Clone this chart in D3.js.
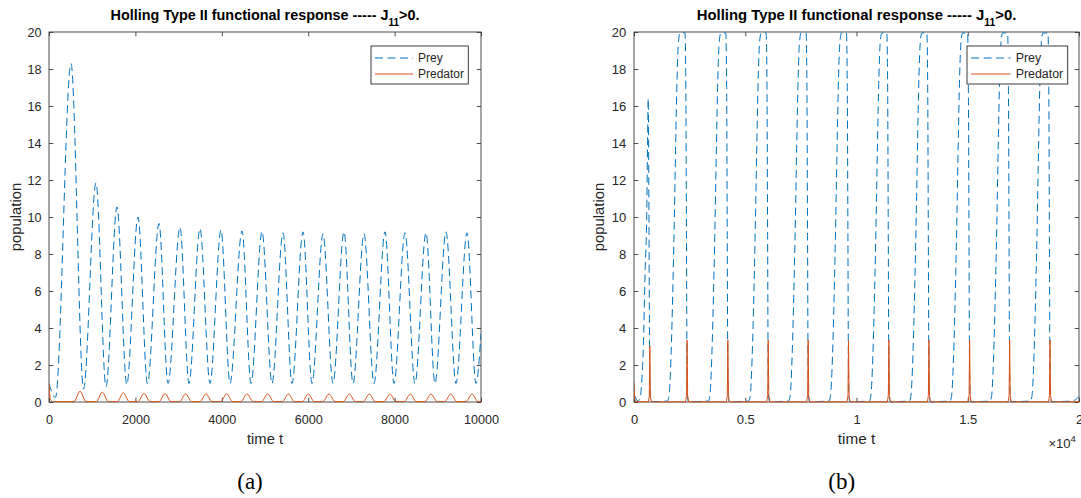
<!DOCTYPE html>
<html><head><meta charset="utf-8">
<script src="https://cdn.jsdelivr.net/npm/d3@7"></script>
<style>body{margin:0;background:#fff}svg{display:block}</style>
</head><body>
<svg id="c" width="1081" height="498"></svg>
<script>
// ---------------- data ----------------
const yTicks = [0, 2, 4, 6, 8, 10, 12, 14, 16, 18, 20];
const xTicksA = [0, 2000, 4000, 6000, 8000, 10000];
const xTicksB = [0, 5000, 10000, 15000, 20000];
const xTickLabelsB = ["0", "0.5", "1", "1.5", "2"];
const legendLabels = ["Prey", "Predator"];
const panelLabels = ["(a)", "(b)"];

// panel (a): prey, [time, population]
const preyA = [[0,1.0],[150,0.25],[509,18.3],[800,0.7],[1088,11.85],[1319,0.82],[1574,10.55],[1800,0.93],
  [2060,10.0],[2280,0.98],[2546,9.65],[2755,1.0],[3032,9.45],[3240,1.0],[3495,9.38],[3727,1.0],
  [3981,9.3],[4190,1.0],[4468,9.25],[4676,1.0],[4931,9.22],[5162,1.0],[5417,9.15],[5625,1.0],
  [5880,9.2],[6088,1.0],[6343,9.1],[6574,1.0],[6829,9.2],[7037,1.0],[7292,9.1],[7523,1.0],
  [7778,9.2],[7986,1.0],[8241,9.15],[8472,1.0],[8727,9.15],[8935,1.0],[9190,9.2],[9421,1.0],
  [9676,9.15],[9884,1.0],[10000,3.7]];

// panel (a): predator
const predA = [[0,1.0],[30,0.15],[100,0.02],
  [578,0.02],[718,0.58],[858,0.02],[1094,0.02],[1234,0.53],[1374,0.02],
  [1580,0.02],[1720,0.49],[1860,0.02],[2059,0.02],[2199,0.46],[2339,0.02],
  [2545,0.02],[2685,0.45],[2825,0.02],[3024,0.02],[3164,0.44],[3304,0.02],
  [3494,0.02],[3634,0.44],[3774,0.02],[3973,0.02],[4113,0.44],[4253,0.02],
  [4443,0.02],[4583,0.44],[4723,0.02],[4922,0.02],[5062,0.44],[5202,0.02],
  [5400,0.02],[5540,0.43],[5680,0.02],[5862,0.02],[6002,0.43],[6142,0.02],
  [6341,0.02],[6481,0.43],[6621,0.02],[6811,0.02],[6951,0.43],[7091,0.02],
  [7274,0.02],[7414,0.43],[7554,0.02],[7753,0.02],[7893,0.43],[8033,0.02],
  [8223,0.02],[8363,0.43],[8503,0.02],[8702,0.02],[8842,0.43],[8982,0.02],
  [9160,0.02],[9300,0.43],[9440,0.02],[9652,0.02],[9792,0.43],[9932,0.02],[10000,0.02]];

// panel (b): prey
const preyB = [[0,1.0],[60,0.3],[150,0.08],[250,0.12],[330,0.8],[420,3],[500,7],[570,10],[610,14],[640,16.4],[665,12],[690,5],[712,1.2],[740,0.15],[790,0.02],
  [1502,0.05],[1572,0.3],[1665,2.5],[1744,6],[1814,10],[1874,14],[1935,17.5],[2000,19.5],[2070,19.95],[2293,19.95],[2330,17],[2358,9],[2381,2],[2409,0.2],[2456,0.02],
  [3335,0.05],[3405,0.3],[3498,2.5],[3577,6],[3647,10],[3707,14],[3768,17.5],[3833,19.5],[3903,19.95],[4126,19.95],[4163,17],[4191,9],[4214,2],[4242,0.2],[4289,0.02],
  [5149,0.05],[5219,0.3],[5312,2.5],[5391,6],[5461,10],[5521,14],[5582,17.5],[5647,19.5],[5717,19.95],[5940,19.95],[5977,17],[6005,9],[6028,2],[6056,0.2],[6103,0.02],
  [6944,0.05],[7014,0.3],[7107,2.5],[7186,6],[7256,10],[7316,14],[7377,17.5],[7442,19.5],[7512,19.95],[7735,19.95],[7772,17],[7800,9],[7823,2],[7851,0.2],[7898,0.02],
  [8758,0.05],[8828,0.3],[8921,2.5],[9000,6],[9070,10],[9130,14],[9191,17.5],[9256,19.5],[9326,19.95],[9549,19.95],[9586,17],[9614,9],[9637,2],[9665,0.2],[9712,0.02],
  [10572,0.05],[10642,0.3],[10735,2.5],[10814,6],[10884,10],[10944,14],[11005,17.5],[11070,19.5],[11140,19.95],[11363,19.95],[11400,17],[11428,9],[11451,2],[11479,0.2],[11526,0.02],
  [12372,0.05],[12442,0.3],[12535,2.5],[12614,6],[12684,10],[12744,14],[12805,17.5],[12870,19.5],[12940,19.95],[13163,19.95],[13200,17],[13228,9],[13251,2],[13279,0.2],[13326,0.02],
  [14200,0.05],[14270,0.3],[14363,2.5],[14442,6],[14512,10],[14572,14],[14633,17.5],[14698,19.5],[14768,19.95],[14991,19.95],[15028,17],[15056,9],[15079,2],[15107,0.2],[15154,0.02],
  [16000,0.05],[16070,0.3],[16163,2.5],[16242,6],[16312,10],[16372,14],[16433,17.5],[16498,19.5],[16568,19.95],[16791,19.95],[16828,17],[16856,9],[16879,2],[16907,0.2],[16954,0.02],
  [17814,0.05],[17884,0.3],[17977,2.5],[18056,6],[18126,10],[18186,14],[18247,17.5],[18312,19.5],[18382,19.95],[18605,19.95],[18642,17],[18670,9],[18693,2],[18721,0.2],[18768,0.02],
  [19700,0.05],[20000,0.3]];

// panel (b): predator
const predB = [[0,1.05],[30,0.2],[80,0.02],
  [642,0.01],[687,0.3],[712,3.03],[737,0.3],[782,0.01],
  [2316,0.01],[2361,0.35],[2386,3.35],[2411,0.35],[2456,0.01],
  [4149,0.01],[4194,0.35],[4219,3.35],[4244,0.35],[4289,0.01],
  [5963,0.01],[6008,0.35],[6033,3.35],[6058,0.35],[6103,0.01],
  [7758,0.01],[7803,0.35],[7828,3.35],[7853,0.35],[7898,0.01],
  [9572,0.01],[9617,0.35],[9642,3.35],[9667,0.35],[9712,0.01],
  [11386,0.01],[11431,0.35],[11456,3.35],[11481,0.35],[11526,0.01],
  [13186,0.01],[13231,0.35],[13256,3.35],[13281,0.35],[13326,0.01],
  [15014,0.01],[15059,0.35],[15084,3.35],[15109,0.35],[15154,0.01],
  [16814,0.01],[16859,0.35],[16884,3.35],[16909,0.35],[16954,0.01],
  [18628,0.01],[18673,0.35],[18698,3.35],[18723,0.35],[18768,0.01],
  [20000,0.01]];

// ---------------- drawing ----------------
const FONT = '"Liberation Sans", Arial, Helvetica, sans-serif';
const BLUE = "#0072BD", ORANGE = "#D95319", INK = "#262626", AXC = "#3a3a3a";
const svg = d3.select("#c");

function panel(o) {
  const {left, right, top, bottom} = o;
  const k = o.hs; // horizontal size factor of this sub-figure
  const x = d3.scaleLinear().domain(o.xDomain).range([left, right]);
  const y = d3.scaleLinear().domain([0, 20]).range([bottom, top]);
  const g = svg.append("g");
  const id = "clip" + o.key;
  svg.append("clipPath").attr("id", id).append("rect")
    .attr("x", left).attr("y", top - 1).attr("width", right - left).attr("height", bottom - top + 2);

  const tl = 4.3;
  const ax = d3.axisBottom(x).tickValues(o.xTicks).tickSize(-tl).tickPadding(13)
    .tickFormat((d, i) => o.xLabels ? o.xLabels[i] : d3.format("d")(d));
  const gx = g.append("g").attr("transform", `translate(0,${bottom})`).call(ax);
  const ay = d3.axisLeft(y).tickValues(yTicks).tickSize(-tl).tickPadding(7.5 * k).tickFormat(d3.format("d"));
  const gy = g.append("g").attr("transform", `translate(${left},0)`).call(ay);
  const gt = g.append("g").attr("transform", `translate(0,${top})`).call(d3.axisTop(x).tickValues(o.xTicks).tickSize(-tl).tickFormat(""));
  const gr = g.append("g").attr("transform", `translate(${right},0)`).call(d3.axisRight(y).tickValues(yTicks).tickSize(-tl).tickFormat(""));
  [gx, gy, gt, gr].forEach(a => {
    a.select(".domain").remove();
    a.selectAll("line").attr("stroke", AXC).attr("stroke-width", 0.9);
    a.selectAll("text").attr("fill", INK).style("font-family", FONT).style("font-size", (12.6 * k) + "px");
  });
  g.append("rect").attr("x", left).attr("y", top).attr("width", right - left).attr("height", bottom - top)
    .attr("fill", "none").attr("stroke", AXC).attr("stroke-width", 0.9);

  const line = d3.line().x(d => x(d[0])).y(d => y(d[1])).curve(d3.curveMonotoneX);
  const lineLin = d3.line().x(d => x(d[0])).y(d => y(d[1]));
  const dg = g.append("g").attr("clip-path", `url(#${id})`);
  dg.append("path").datum(o.prey).attr("d", line).attr("fill", "none")
    .attr("stroke", BLUE).attr("stroke-width", 1).attr("stroke-dasharray", "8,4.5");
  dg.append("path").datum(o.pred).attr("d", o.predLinear ? lineLin : line).attr("fill", "none")
    .attr("stroke", ORANGE).attr("stroke-width", 1);

  const cx = (left + right) / 2;
  const t = g.append("text").attr("x", cx).attr("y", 19.5).attr("text-anchor", "middle")
    .style("font-family", FONT).style("font-size", (14.4 * k) + "px").style("font-weight", "bold").attr("fill", "#000");
  t.append("tspan").text("Holling Type II functional response ----- J");
  t.append("tspan").attr("dy", 6.5).style("font-size", (10 * k) + "px").text("11");
  t.append("tspan").attr("dy", -6.5).text(">0.");

  g.append("text").attr("x", cx).attr("y", 444).attr("text-anchor", "middle")
    .style("font-family", FONT).style("font-size", (14.8 * k) + "px").attr("fill", INK).text("time t");
  g.append("text").attr("transform", `translate(${o.ylabX},${(top + bottom) / 2}) rotate(-90)`)
    .attr("text-anchor", "middle").style("font-family", FONT).style("font-size", "14.8px")
    .attr("fill", INK).text("population");

  g.append("text").attr("x", o.capX).attr("y", 489).attr("text-anchor", "middle")
    .style("font-family", '"Liberation Serif", "Times New Roman", serif').style("font-size", "23px")
    .attr("fill", "#000").text(o.caption);

  const lx = o.legX, ly = 46, lw = 97.3 * k, lh = 38;
  const lg = g.append("g");
  lg.append("rect").attr("x", lx).attr("y", ly).attr("width", lw).attr("height", lh)
    .attr("fill", "#fff").attr("stroke", INK).attr("stroke-width", 0.9);
  [[BLUE, "8,4.5", 58], [ORANGE, null, 74]].forEach((s, i) => {
    lg.append("line").attr("x1", lx + 4 * k).attr("x2", lx + 42 * k).attr("y1", s[2]).attr("y2", s[2])
      .attr("stroke", s[0]).attr("stroke-width", 1).attr("stroke-dasharray", s[1]);
    lg.append("text").attr("x", lx + 47 * k).attr("y", s[2] + 4.3)
      .style("font-family", FONT).style("font-size", (12 * k) + "px").attr("fill", INK).text(legendLabels[i]);
  });

  if (o.exponent) {
    const e = g.append("text").attr("x", right - 30.5).attr("y", 448)
      .style("font-family", FONT).style("font-size", (12.6 * k) + "px").attr("fill", INK);
    e.append("tspan").text("\u00d710");
    e.append("tspan").attr("dy", -6.5).style("font-size", "9.5px").text("4");
  }
}

panel({key: "a", hs: 1, left: 49, right: 481, top: 32, bottom: 402, xDomain: [0, 10000], xTicks: xTicksA,
  prey: preyA, pred: predA, legX: 371, ylabX: 20.5, capX: 250, caption: panelLabels[0]});
panel({key: "b", hs: 1.035, left: 634, right: 1079, top: 32, bottom: 402, xDomain: [0, 20000], xTicks: xTicksB,
  xLabels: xTickLabelsB, prey: preyB, pred: predB, predLinear: true, legX: 967, ylabX: 604,
  capX: 841.7, caption: panelLabels[1], exponent: true});
</script>
</body></html>
